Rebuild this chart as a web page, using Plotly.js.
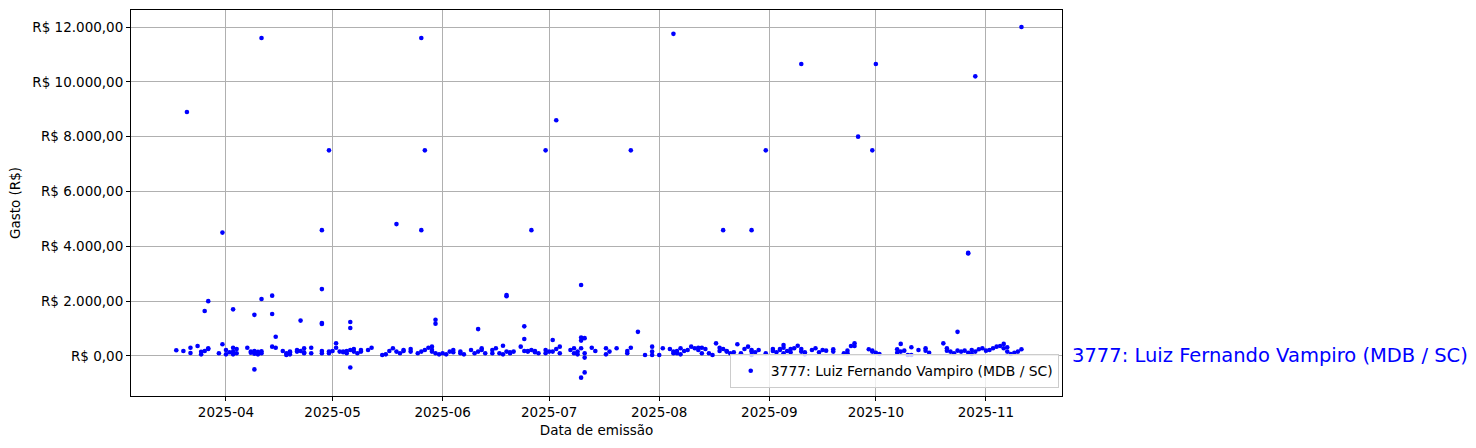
<!DOCTYPE html>
<html>
<head>
<meta charset="utf-8">
<script src="https://cdn.plot.ly/plotly-3.0.1.min.js"></script>
<style>html,body{margin:0;padding:0;background:#fff;}#chart{width:1476px;height:448px;}</style>
</head>
<body>
<div id="chart"></div>
<script>
// Series label
const seriesName = "3777: Luiz Fernando Vampiro (MDB / SC)";

// Emission dates (x) and spending values in R$ (y)
const dates = [
  "2025-03-18","2025-03-20","2025-03-21","2025-03-22","2025-03-22","2025-03-24","2025-03-25","2025-03-25","2025-03-26","2025-03-26",
  "2025-03-27","2025-03-27","2025-03-27","2025-03-30","2025-03-31","2025-03-31",
  "2025-04-01","2025-04-01","2025-04-02","2025-04-03","2025-04-03","2025-04-03","2025-04-03","2025-04-04","2025-04-04","2025-04-07",
  "2025-04-08","2025-04-08","2025-04-09","2025-04-09","2025-04-09","2025-04-09","2025-04-10","2025-04-10","2025-04-11","2025-04-11",
  "2025-04-11","2025-04-11","2025-04-14","2025-04-14","2025-04-15","2025-04-15","2025-04-14","2025-04-17","2025-04-18","2025-04-18",
  "2025-04-19","2025-04-19","2025-04-19","2025-04-21","2025-04-21","2025-04-22","2025-04-22","2025-04-23","2025-04-23","2025-04-23",
  "2025-04-25","2025-04-25","2025-04-28","2025-04-28","2025-04-28","2025-04-28","2025-04-28","2025-04-28","2025-04-30","2025-04-30",
  "2025-04-30",
  "2025-05-01","2025-05-02","2025-05-02","2025-05-03","2025-05-04","2025-05-04","2025-05-05","2025-05-05","2025-05-06","2025-05-06",
  "2025-05-06","2025-05-06","2025-05-07","2025-05-07","2025-05-08","2025-05-09","2025-05-09","2025-05-11","2025-05-12","2025-05-15",
  "2025-05-16","2025-05-17","2025-05-18","2025-05-19","2025-05-19","2025-05-20","2025-05-21","2025-05-21","2025-05-23","2025-05-23",
  "2025-05-25","2025-05-26","2025-05-26","2025-05-26","2025-05-27","2025-05-27","2025-05-28","2025-05-29","2025-05-29","2025-05-29",
  "2025-05-30","2025-05-30","2025-05-30","2025-05-31",
  "2025-06-01","2025-06-02","2025-06-03","2025-06-04","2025-06-04","2025-06-06","2025-06-06","2025-06-07","2025-06-09","2025-06-10",
  "2025-06-11","2025-06-11","2025-06-12","2025-06-12","2025-06-13","2025-06-15","2025-06-15","2025-06-16","2025-06-17","2025-06-18",
  "2025-06-18","2025-06-19","2025-06-19","2025-06-19","2025-06-20","2025-06-20","2025-06-21","2025-06-23","2025-06-24","2025-06-24",
  "2025-06-24","2025-06-25","2025-06-25","2025-06-26","2025-06-26","2025-06-27","2025-06-27","2025-06-28","2025-06-30","2025-06-30",
  "2025-06-30",
  "2025-07-01","2025-07-02","2025-07-02","2025-07-03","2025-07-03","2025-07-04","2025-07-04","2025-07-07","2025-07-08","2025-07-08",
  "2025-07-09","2025-07-09","2025-07-10","2025-07-10","2025-07-10","2025-07-10","2025-07-10","2025-07-11","2025-07-11","2025-07-11",
  "2025-07-11","2025-07-13","2025-07-14","2025-07-17","2025-07-17","2025-07-18","2025-07-20","2025-07-23","2025-07-23","2025-07-24",
  "2025-07-24","2025-07-26","2025-07-28","2025-07-30","2025-07-30","2025-07-30",
  "2025-08-01","2025-08-02","2025-08-04","2025-08-05","2025-08-05","2025-08-05","2025-08-06","2025-08-06","2025-08-07","2025-08-07",
  "2025-08-08","2025-08-09","2025-08-10","2025-08-11","2025-08-12","2025-08-12","2025-08-13","2025-08-13","2025-08-14","2025-08-15",
  "2025-08-16","2025-08-17","2025-08-18","2025-08-18","2025-08-19","2025-08-19","2025-08-20","2025-08-20","2025-08-21","2025-08-22",
  "2025-08-23","2025-08-24","2025-08-25","2025-08-26","2025-08-27","2025-08-27","2025-08-27","2025-08-27","2025-08-28","2025-08-29",
  "2025-08-31","2025-08-31",
  "2025-09-02","2025-09-02","2025-09-03","2025-09-04","2025-09-04","2025-09-05","2025-09-05","2025-09-05","2025-09-06","2025-09-07",
  "2025-09-07","2025-09-08","2025-09-09","2025-09-10","2025-09-10","2025-09-10","2025-09-11","2025-09-11","2025-09-13","2025-09-14",
  "2025-09-15","2025-09-16","2025-09-17","2025-09-19","2025-09-19","2025-09-22","2025-09-23","2025-09-23","2025-09-24","2025-09-25",
  "2025-09-25","2025-09-26","2025-09-29","2025-09-30","2025-09-30","2025-09-30",
  "2025-10-01","2025-10-01","2025-10-02","2025-10-07","2025-10-07","2025-10-08","2025-10-08","2025-10-09","2025-10-10","2025-10-11",
  "2025-10-11","2025-10-13","2025-10-15","2025-10-15","2025-10-16","2025-10-20","2025-10-21","2025-10-21","2025-10-22","2025-10-23",
  "2025-10-24","2025-10-24","2025-10-25","2025-10-26","2025-10-27","2025-10-27","2025-10-27","2025-10-28","2025-10-28","2025-10-29",
  "2025-10-29","2025-10-30","2025-10-31",
  "2025-11-01","2025-11-02","2025-11-03","2025-11-04","2025-11-05","2025-11-06","2025-11-06","2025-11-07","2025-11-07","2025-11-08",
  "2025-11-09","2025-11-10","2025-11-11","2025-11-11"
];
const values = [
  208,182,8900,300,109,365,60,150,180,1640,
  255,280,2000,100,425,4500,
  220,60,135,300,160,60,1700,100,255,300,
  160,120,80,180,1500,-490,60,150,100,170,
  11600,2080,2200,1530,700,300,340,182,100,36,
  160,60,135,160,220,182,1290,280,100,135,
  100,300,182,100,4590,2440,1200,1170,160,100,
  7500,
  182,465,300,160,135,160,100,182,220,-420,
  1240,1020,255,160,100,220,160,220,300,36,
  60,180,280,160,4810,100,180,220,255,160,
  100,160,11600,4590,220,7500,300,340,220,160,
  100,1320,1180,60,
  100,60,160,220,135,100,160,60,220,100,
  160,980,280,220,100,220,100,280,100,60,
  375,160,2180,2220,100,135,160,340,180,1080,
  620,180,160,220,4590,135,180,100,100,220,
  7500,
  160,160,580,255,8600,340,100,220,100,280,
  160,60,280,2590,560,670,-790,650,-600,-60,
  100,300,180,280,60,160,280,180,100,300,
  7500,880,36,340,160,36,
  36,280,255,160,100,11750,180,100,280,60,
  180,220,340,280,300,220,300,100,255,100,
  36,460,300,180,255,4590,160,180,100,135,
  425,100,255,340,160,36,220,4590,135,220,
  100,7500,
  255,180,135,255,220,300,400,100,180,255,
  135,280,375,160,255,10650,135,60,220,280,
  135,220,195,245,160,100,195,100,365,460,
  365,8000,245,160,195,7500,
  120,10650,70,120,245,440,160,195,36,36,
  320,220,280,195,120,460,280,195,160,100,
  195,880,160,195,120,3760,3740,220,70,160,
  10200,245,280,
  195,220,280,340,365,280,440,320,160,70,
  120,160,245,12000
];

// Y tick values and their labels
const yTickVals = [0, 2000, 4000, 6000, 8000, 10000, 12000];
const yTickText = ["R$ 0,00", "R$ 2.000,00", "R$ 4.000,00", "R$ 6.000,00", "R$ 8.000,00", "R$ 10.000,00", "R$ 12.000,00"];

const trace = {
  type: "scatter",
  mode: "markers",
  x: dates,
  y: values,
  name: seriesName,
  marker: {color: "#0000ff", size: 4.6, line: {width: 0}},
  showlegend: true
};

const font = {family: "DejaVu Sans, sans-serif", size: 13.5, color: "#000"};
const legendFont = {family: "DejaVu Sans, sans-serif", size: 13.9, color: "#000"};

const layout = {
  width: 1476,
  height: 448,
  margin: {l: 131, r: 414, t: 10, b: 52, pad: 0},
  paper_bgcolor: "#ffffff",
  plot_bgcolor: "#ffffff",
  font: font,
  showlegend: true,
  xaxis: {
    type: "date",
    range: ["2025-03-05 06:00", "2025-11-22 10:00"],
    tickformat: "%Y-%m",
    dtick: "M1",
    tick0: "2025-04-01",
    ticks: "outside",
    ticklen: 4,
    tickcolor: "#000",
    showgrid: true,
    gridcolor: "#b0b0b0",
    gridwidth: 1,
    showline: true,
    linecolor: "#000",
    linewidth: 1,
    mirror: true,
    zeroline: false,
    title: {text: "Data de emissão", font: font, standoff: 6}
  },
  yaxis: {
    range: [-1460, 12620],
    tickmode: "array",
    tickvals: yTickVals,
    ticktext: yTickText,
    ticks: "outside",
    ticklen: 4,
    tickcolor: "#000",
    showgrid: true,
    gridcolor: "#b0b0b0",
    gridwidth: 1,
    showline: true,
    linecolor: "#000",
    linewidth: 1,
    mirror: true,
    zeroline: false,
    title: {text: "Gasto (R$)", font: font, standoff: 8}
  },
  legend: {
    x: 0.9965, xanchor: "right",
    y: 0.02, yanchor: "bottom",
    bgcolor: "rgba(255,255,255,0.8)",
    bordercolor: "#cccccc",
    borderwidth: 1,
    font: legendFont
  },
  annotations: [{
    text: seriesName,
    xref: "paper", x: 1, xanchor: "left", xshift: 8,
    yref: "y", y: 0, yanchor: "middle",
    showarrow: false,
    font: {family: "DejaVu Sans, sans-serif", size: 19.5, color: "#0000ff"}
  }]
};

Plotly.newPlot("chart", [trace], layout, {displayModeBar: false, staticPlot: true});
</script>
</body>
</html>
